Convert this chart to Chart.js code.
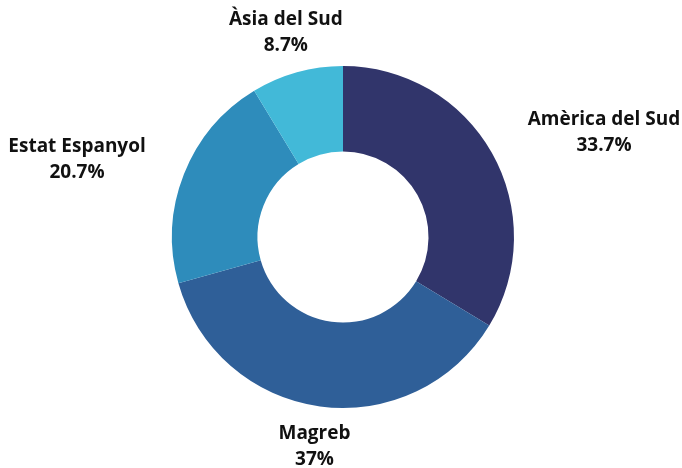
<!DOCTYPE html>
<html>
<head>
<meta charset="utf-8">
<script src="https://cdn.jsdelivr.net/npm/chart.js@4"></script>
<style>
  html, body { margin: 0; padding: 0; background: #fff; }
  #wrap { width: 682px; height: 468px; }
</style>
</head>
<body>
<div id="wrap"><canvas id="myChart" width="682" height="468"></canvas></div>
<script>
var regions = ["Amèrica del Sud", "Magreb", "Estat Espanyol", "Àsia del Sud"];
var shares = [33.7, 37, 20.7, 8.7];
var shareLabels = ["33.7%", "37%", "20.7%", "8.7%"];
var sliceColors = ["#31356b", "#2f5f98", "#2e8cbb", "#42b9d8"];

// labels outside the ring, at the middle angle of each slice
const outsideLabels = {
    id: "outsideLabels",
    afterDatasetsDraw(chart) {
        const ctx = chart.ctx;
        const meta = chart.getDatasetMeta(0);
        ctx.save();
        ctx.font = "bold 19px 'Open Sans'";
        ctx.fillStyle = "#111";
        ctx.textBaseline = "middle";
        meta.data.forEach((arc, i) => {
            const mid = (arc.startAngle + arc.endAngle) / 2;
            const r = arc.outerRadius + 41;
            const cx = arc.x + Math.cos(mid) * r;
            const cy = arc.y + Math.sin(mid) * r;
            const lines = [regions[i], shareLabels[i]];
            const w = Math.max(...lines.map(t => ctx.measureText(t).width));
            let dir = Math.cos(mid);
            let x = cx;
            if (dir > 0.5) x = cx + w / 2;     // right side
            else if (dir < -0.5) x = cx - w / 2; // left side
            ctx.textAlign = "center";
            ctx.fillText(lines[0], x, cy - 13);
            ctx.fillText(lines[1], x, cy + 13);
        });
        ctx.restore();
    }
};

new Chart("myChart", {
    type: "doughnut",
    data: {
        labels: regions,
        datasets: [{
            data: shares,
            backgroundColor: sliceColors,
            borderWidth: 0
        }]
    },
    options: {
        responsive: false,
        animation: false,
        cutout: "50%",
        layout: { padding: { top: 66, bottom: 60, left: 100, right: 96 } },
        plugins: {
            legend: { display: false },
            tooltip: { enabled: false }
        }
    },
    plugins: [outsideLabels]
});
</script>
</body>
</html>
